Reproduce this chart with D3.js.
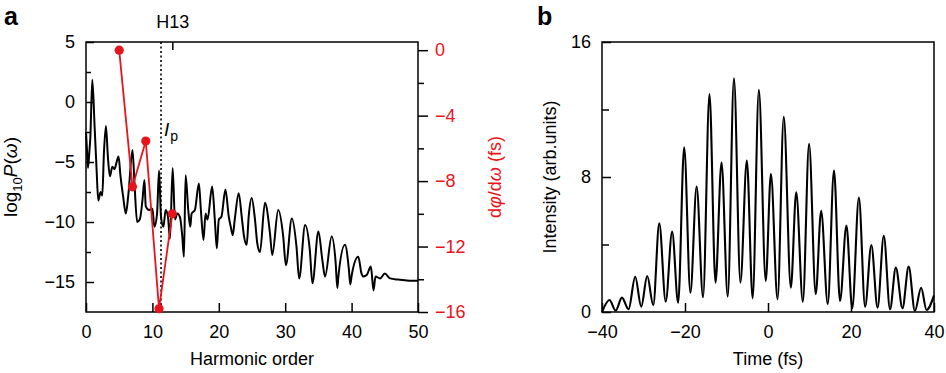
<!DOCTYPE html>
<html>
<head>
<meta charset="utf-8">
<script src="https://cdn.jsdelivr.net/npm/d3@7"></script>
<style>
    body { margin: 0; background: #fff; }
    svg text { font-family: "Liberation Sans", Arial, Helvetica, sans-serif; }
</style>
</head>
<body>
<div id="chart"></div>
<script>
// ---- panel a : harmonic spectrum (log10 P) ----
const spectrumOrder = [
    0.0, 0.15, 0.3, 0.5, 0.65, 0.95, 1.3, 1.6, 1.85, 2.2, 2.45, 2.7, 3.0, 3.3, 3.6, 3.96, 4.3, 4.5, 4.9,
    5.2, 5.6, 6.0, 6.4, 7.0, 7.3, 7.7, 8.1, 8.5, 8.8, 9.0, 9.5, 10.0, 10.3, 10.7, 11.0, 11.3, 11.65,
    12.0, 12.35, 12.65, 13.05, 13.4, 13.75, 14.15, 14.5, 14.75, 15.0, 15.4, 15.7, 15.9, 16.4, 17.0,
    17.3, 17.7, 18.0, 18.3, 19.0, 19.4, 19.7, 20.0, 20.4, 21.0, 21.5, 21.8, 22.1, 22.4, 23.0, 23.45,
    23.8, 24.2, 24.5, 24.95, 25.45, 25.8, 26.2, 26.95, 27.7, 28.05, 28.95, 29.7, 30.1, 31.0, 31.7,
    32.1, 33.0, 33.7, 34.1, 35.0, 35.6, 36.0, 37.0, 37.6, 37.85, 38.0, 39.0, 39.6, 39.8, 40.0, 41.0,
    41.5, 41.8, 42.3, 42.9, 43.3, 43.6, 44.3, 45.0, 45.8, 47.0, 48.0, 49.0, 50.0
];
const spectrumLog = [
    -2.5, -4.0, -5.5, -4.2, -3.0, 1.85, -2.1, -5.7, -8.2, -7.5, -7.8, -4.25, -2.0, -4.6, -6.2, -5.4, -5.6, -5.25, -4.55,
    -6.2, -7.9, -9.3, -7.6, -4.0, -6.75, -10.0, -9.8, -8.2, -6.5, -8.7, -9.0, -8.9, -10.4, -9.3, -5.7, -9.6, -10.4,
    -9.0, -9.6, -11.4, -5.5, -9.8, -9.3, -9.6, -11.2, -12.9, -6.1, -9.0, -10.4, -9.3, -9.0, -6.8,
    -9.0, -11.5, -9.3, -9.8, -7.05, -9.8, -12.2, -9.8, -9.55, -7.3, -9.55, -10.4, -11.1, -9.8, -7.6, -9.55,
    -11.2, -11.9, -9.55, -8.0, -9.8, -11.8, -12.5, -8.4, -10.9, -12.75, -9.0, -11.2, -13.6, -9.7, -12.05,
    -14.7, -10.25, -12.3, -15.1, -10.8, -13.2, -14.55, -11.2, -13.4, -15.5, -14.6, -11.9, -14.0, -15.2, -14.5, -12.9,
    -14.3, -14.55, -14.4, -13.7, -15.7, -14.55, -14.7, -14.3, -14.7, -14.8, -14.85, -14.9, -14.9
];

// group delay dphi/domega (fs) at odd harmonics
const delayOrder = [5, 7, 9, 11, 13];
const delayFs = [0, -8.35, -5.55, -15.8, -10.0];

const ipOrder = 11.3;
const markOrder = 13;
const orderTicks = [0, 10, 20, 30, 40, 50];
const logTicks = [5, 0, -5, -10, -15];
const logMinorTicks = [2.5, -2.5, -7.5, -12.5];
const delayTicks = [0, -4, -8, -12, -16];
const delayMinorTicks = [-2, -6, -10, -14];

// ---- panel b : attosecond pulse train intensity (peaks and troughs) ----
const pulseTime = [
    -40, -38.2, -36.7, -35.2, -33.6, -32.0, -30.55, -29.1, -27.65, -26.2, -24.65, -23.1, -21.65,
    -20.2, -18.7, -17.2, -15.65, -14.1, -12.65, -11.2, -9.7, -8.2, -6.65, -5.1, -3.7, -2.2, -0.55,
    0.7, 2.3, 3.8, 5.5, 6.8, 8.4, 9.9, 11.5, 12.8, 14.4, 15.9, 17.35, 18.9, 20.3, 21.9, 23.4,
    24.9, 26.4, 27.9, 29.4, 30.8, 32.4, 33.9, 35.4, 36.9, 38.2, 40
];
const pulseIntensity = [
    0, 0.71, 0.08, 0.85, 0.16, 2.09, 0.32, 2.13, 0.41, 5.25, 0.61, 4.76, 0.55,
    9.76, 1.14, 7.43, 0.87, 12.92, 1.74, 8.85, 0.91, 13.85, 1.74, 8.97, 0.81, 13.16, 1.84,
    8.18, 0.75, 11.57, 1.44, 7.09, 0.61, 9.96, 1.05, 6.0, 0.47, 8.38, 0.65, 5.12, 0.22, 6.78, 0.31,
    3.97, 0.25, 4.52, 0.16, 2.63, 0.22, 2.69, 0.06, 1.44, 0.12, 0.98
];
const timeTicks = [-40, -20, 0, 20, 40];
const intensityTicks = [0, 8, 16];
const intensityMinorTicks = [4, 12];

const red = '#e8141c';
const fmt = d3.format('');

const svg = d3.select('#chart').append('svg')
    .attr('width', 946)
    .attr('height', 373)
    .style('background', '#fff');

function styleAxis(g, color) {
    g.select('.domain').remove();
    g.selectAll('line').attr('stroke', '#000').attr('stroke-width', 1.5);
    g.selectAll('text').attr('font-size', 18).attr('fill', color || '#000');
}

function frame(x0, x1, y0, y1) {
    svg.append('rect')
        .attr('x', x0).attr('y', y0)
        .attr('width', x1 - x0).attr('height', y1 - y0)
        .attr('fill', 'none')
        .attr('stroke', '#000')
        .attr('stroke-width', 1.5);
}

// ================= panel a =================
function drawPanelA() {
    const left = 86, right = 418, top = 42, bottom = 312;

    const x = d3.scaleLinear().domain([0, 50]).range([left, right]);
    const yLog = d3.scaleLinear().domain([-17.5, 5]).range([bottom, top]);
    const yDelay = d3.scaleLinear().domain([-16, 0.5]).range([bottom, top]);

    // bottom axis, ticks inside
    svg.append('g')
        .attr('transform', `translate(0,${bottom})`)
        .call(d3.axisBottom(x).tickValues(orderTicks).tickFormat(fmt).tickSizeInner(-9).tickSizeOuter(0).tickPadding(13))
        .call(g => styleAxis(g));

    // left axis, ticks inside
    svg.append('g')
        .attr('transform', `translate(${left},0)`)
        .call(d3.axisLeft(yLog).tickValues(logTicks).tickFormat(d3.format('')).tickSizeInner(-8).tickSizeOuter(0).tickPadding(11))
        .call(g => styleAxis(g));
    svg.append('g')
        .attr('transform', `translate(${left},0)`)
        .call(d3.axisLeft(yLog).tickValues(logMinorTicks).tickFormat('').tickSizeInner(-5).tickSizeOuter(0))
        .call(g => styleAxis(g));

    // right axis (red labels), ticks outside
    svg.append('g')
        .attr('transform', `translate(${right},0)`)
        .call(d3.axisRight(yDelay).tickValues(delayTicks).tickFormat(d3.format('')).tickSizeInner(10).tickSizeOuter(0).tickPadding(7))
        .call(g => styleAxis(g, red));
    svg.append('g')
        .attr('transform', `translate(${right},0)`)
        .call(d3.axisRight(yDelay).tickValues(delayMinorTicks).tickFormat('').tickSizeInner(6).tickSizeOuter(0))
        .call(g => styleAxis(g));

    // H13 mark on top
    svg.append('g')
        .attr('transform', `translate(0,${top})`)
        .call(d3.axisTop(x).tickValues([markOrder]).tickFormat(d => 'H' + d).tickSizeInner(-8).tickSizeOuter(0).tickPadding(14))
        .call(g => styleAxis(g))
        .call(g => g.selectAll('text').attr('font-size', 18));

    frame(left, right, top, bottom);

    // Ip dotted line
    svg.append('line')
        .attr('x1', x(ipOrder)).attr('x2', x(ipOrder))
        .attr('y1', top).attr('y2', bottom)
        .attr('stroke', '#000')
        .attr('stroke-width', 1.6)
        .attr('stroke-dasharray', '2,2.5');

    const ip = svg.append('text')
        .attr('x', x(ipOrder) + 3)
        .attr('y', 136)
        .attr('font-size', 19);
    ip.append('tspan').attr('font-style', 'italic').text('I');
    ip.append('tspan').attr('font-size', 14).attr('dy', 5).attr('dx', 1).text('p');

    // spectrum
    const spectrum = spectrumOrder.map((h, i) => [h, spectrumLog[i]]);
    const line = d3.line()
        .x(d => x(d[0]))
        .y(d => yLog(d[1]))
        .curve(d3.curveMonotoneX);

    svg.append('path')
        .datum(spectrum)
        .attr('fill', 'none')
        .attr('stroke', '#000')
        .attr('stroke-width', 2)
        .attr('stroke-linejoin', 'round')
        .attr('d', line);

    // group delay (red)
    const delay = delayOrder.map((h, i) => [h, delayFs[i]]);
    svg.append('path')
        .datum(delay)
        .attr('fill', 'none')
        .attr('stroke', red)
        .attr('stroke-width', 1.8)
        .attr('d', d3.line().x(d => x(d[0])).y(d => yDelay(d[1])));

    svg.selectAll('.delay-pt')
        .data(delay)
        .enter().append('circle')
        .attr('class', 'delay-pt')
        .attr('cx', d => x(d[0]))
        .attr('cy', d => yDelay(d[1]))
        .attr('r', 4.6)
        .attr('fill', red);

    // axis titles
    svg.append('text')
        .attr('x', (left + right) / 2)
        .attr('y', 365)
        .attr('text-anchor', 'middle')
        .attr('font-size', 18)
        .text('Harmonic order');

    const yl = svg.append('text')
        .attr('transform', 'translate(17,177) rotate(-90)')
        .attr('text-anchor', 'middle')
        .attr('font-size', 19);
    yl.append('tspan').text('log');
    yl.append('tspan').attr('font-size', 13).attr('dy', 5).text('10');
    yl.append('tspan').attr('dy', -5).attr('font-style', 'italic').text('P');
    yl.append('tspan').text('(');
    yl.append('tspan').attr('font-style', 'italic').text('ω');
    yl.append('tspan').text(')');

    const yr = svg.append('text')
        .attr('transform', 'translate(501,177) rotate(-90)')
        .attr('text-anchor', 'middle')
        .attr('font-size', 18)
        .attr('fill', red);
    yr.append('tspan').text('d');
    yr.append('tspan').attr('font-style', 'italic').text('φ');
    yr.append('tspan').text('/d');
    yr.append('tspan').attr('font-style', 'italic').text('ω');
    yr.append('tspan').text(' (fs)');

    svg.append('text')
        .attr('x', 4).attr('y', 25)
        .attr('font-size', 25)
        .attr('font-weight', 'bold')
        .text('a');
}

// ================= panel b =================
function drawPanelB() {
    const left = 602, right = 934, top = 42, bottom = 312;

    const x = d3.scaleLinear().domain([-40, 40]).range([left, right]);
    const y = d3.scaleLinear().domain([0, 16]).range([bottom, top]);

    svg.append('g')
        .attr('transform', `translate(0,${bottom})`)
        .call(d3.axisBottom(x).tickValues(timeTicks).tickFormat(d3.format('')).tickSizeInner(-9).tickSizeOuter(0).tickPadding(13))
        .call(g => styleAxis(g));

    svg.append('g')
        .attr('transform', `translate(${left},0)`)
        .call(d3.axisLeft(y).tickValues(intensityTicks).tickFormat(d3.format('')).tickSizeInner(-9).tickSizeOuter(0).tickPadding(11))
        .call(g => styleAxis(g));
    svg.append('g')
        .attr('transform', `translate(${left},0)`)
        .call(d3.axisLeft(y).tickValues(intensityMinorTicks).tickFormat('').tickSizeInner(-7).tickSizeOuter(0))
        .call(g => styleAxis(g));

    frame(left, right, top, bottom);

    const pulse = pulseTime.map((t, i) => [t, pulseIntensity[i]]);
    svg.append('path')
        .datum(pulse)
        .attr('fill', 'none')
        .attr('stroke', '#000')
        .attr('stroke-width', 2.1)
        .attr('d', d3.line().x(d => x(d[0])).y(d => y(d[1])).curve(d3.curveMonotoneX));

    svg.append('text')
        .attr('x', (left + right) / 2)
        .attr('y', 365)
        .attr('text-anchor', 'middle')
        .attr('font-size', 18)
        .text('Time (fs)');

    svg.append('text')
        .attr('transform', 'translate(556,177) rotate(-90)')
        .attr('text-anchor', 'middle')
        .attr('font-size', 18)
        .text('Intensity (arb.units)');

    svg.append('text')
        .attr('x', 537).attr('y', 25)
        .attr('font-size', 25)
        .attr('font-weight', 'bold')
        .text('b');
}

drawPanelA();
drawPanelB();
</script>
</body>
</html>
